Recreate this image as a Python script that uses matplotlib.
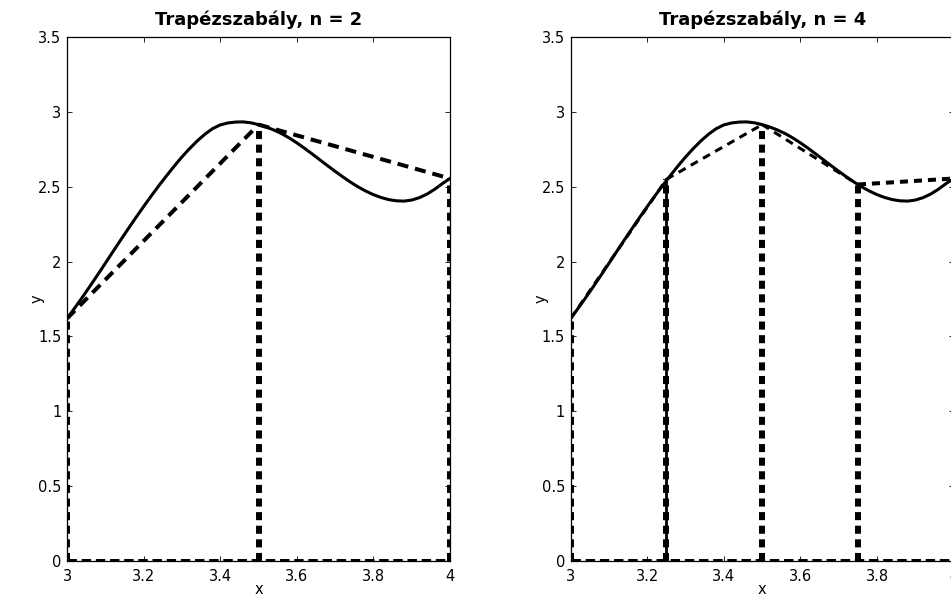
import matplotlib
matplotlib.use('Agg')
import matplotlib.pyplot as plt

# görbe pontjai
x_curve = [3.00, 3.02, 3.04, 3.06, 3.08, 3.10, 3.12, 3.14, 3.16, 3.18, 3.20, 3.22, 3.24,
           3.26, 3.28, 3.30, 3.32, 3.34, 3.36, 3.38, 3.40, 3.42, 3.44, 3.46, 3.48, 3.50,
           3.52, 3.54, 3.56, 3.58, 3.60, 3.62, 3.64, 3.66, 3.68, 3.70, 3.72, 3.74, 3.76,
           3.78, 3.80, 3.82, 3.84, 3.86, 3.88, 3.90, 3.92, 3.94, 3.96, 3.98, 4.00]
y_curve = [1.620, 1.690, 1.762, 1.836, 1.912, 1.989, 2.067, 2.144, 2.220, 2.295, 2.368,
           2.439, 2.508, 2.574, 2.638, 2.699, 2.755, 2.806, 2.851, 2.888, 2.913, 2.926,
           2.932, 2.933, 2.927, 2.915, 2.899, 2.879, 2.855, 2.826, 2.793, 2.757, 2.719,
           2.680, 2.641, 2.603, 2.566, 2.531, 2.499, 2.471, 2.447, 2.428, 2.414, 2.406,
           2.404, 2.411, 2.427, 2.451, 2.483, 2.521, 2.555]

# osztópontok
x_n2 = [3.0, 3.5, 4.0]
y_n2 = [1.62, 2.915, 2.555]
x_n4 = [3.0, 3.25, 3.5, 3.75, 4.0]
y_n4 = [1.62, 2.55, 2.915, 2.515, 2.555]

titles = ['Trapézszabály, n = 2', 'Trapézszabály, n = 4']
x_ticks = [3, 3.2, 3.4, 3.6, 3.8, 4]
x_ticklabels = ['3', '3.2', '3.4', '3.6', '3.8', '4']
y_ticks = [0, 0.5, 1, 1.5, 2, 2.5, 3, 3.5]
y_ticklabels = ['0', '0.5', '1', '1.5', '2', '2.5', '3', '3.5']

plt.rcParams['font.family'] = ['DejaVu Sans']
plt.rcParams['lines.scale_dashes'] = False


def draw(ax, xs, ys, title, top_lw, top_dash):
    ax.plot(x_curve, y_curve, 'k-', lw=2.2)
    for i in range(len(xs) - 1):
        ax.plot(xs[i:i + 2], ys[i:i + 2], 'k--', lw=top_lw[i], dashes=top_dash)
    for i, (xi, yi) in enumerate(zip(xs, ys)):
        if len(xs) > 3 and i == 1:
            ax.plot([xi, xi], [0, yi], 'k-', lw=2.0)
        ax.plot([xi, xi], [0, yi], 'k--', lw=4.3, dashes=(5.8, 4.0))
    ax.plot([xs[0], xs[-1]], [0, 0], 'k--', lw=3.6, dashes=(6.8, 3.4))

    ax.set_xlim(3, 4)
    ax.set_ylim(0, 3.5)
    ax.set_xticks(x_ticks)
    ax.set_xticklabels(x_ticklabels)
    ax.set_yticks(y_ticks)
    ax.set_yticklabels(y_ticklabels)
    ax.tick_params(direction='in', top=True, right=True, length=3.6, width=0.6,
                   labelsize=10.5)
    ax.tick_params(axis='x', pad=6)
    ax.tick_params(axis='y', pad=4)
    for s in ax.spines.values():
        s.set_linewidth(0.9)
    ax.set_xlabel('x', fontsize=10.5)
    ax.set_ylabel('y', fontsize=10.5)
    ax.xaxis.set_label_coords(0.5, -0.04)
    ax.yaxis.set_label_coords(-0.058, 0.5)
    ax.set_title(title, fontsize=13, fontweight='bold', pad=9)


def main():
    fig = plt.figure(figsize=(9.51, 5.99), dpi=100)
    ax1 = fig.add_axes([0.0705, 0.0634, 0.4027, 0.8748])
    ax2 = fig.add_axes([0.6001, 0.0634, 0.4027, 0.8748])

    draw(ax1, x_n2, y_n2, titles[0], [2.9, 2.9], (8.0, 5.0))
    draw(ax2, x_n4, y_n4, titles[1], [2.2, 2.2, 2.2, 2.9], (5.8, 4.3))

    fig.savefig('out.png', dpi=100)


if __name__ == '__main__':
    main()
